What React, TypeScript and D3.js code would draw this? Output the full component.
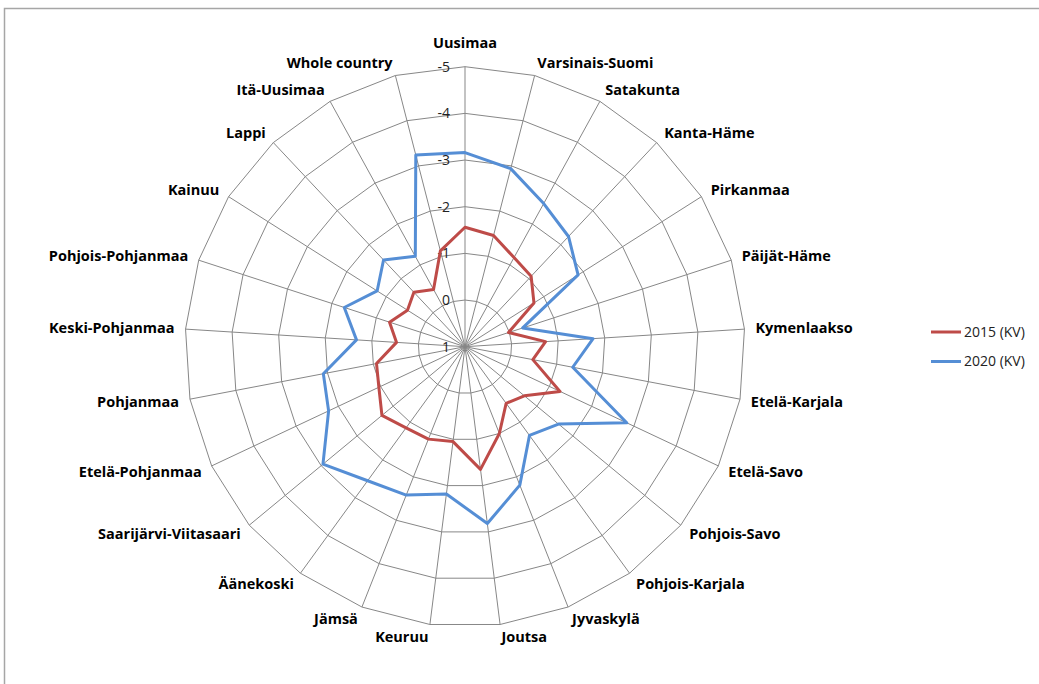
import React from "react";
import * as d3 from "d3";

const categories = [
  "Uusimaa", "Varsinais-Suomi", "Satakunta", "Kanta-Häme", "Pirkanmaa", "Päijät-Häme",
  "Kymenlaakso", "Etelä-Karjala", "Etelä-Savo", "Pohjois-Savo", "Pohjois-Karjala",
  "Jyvaskylä", "Joutsa", "Keuruu", "Jämsä", "Äänekoski", "Saarijärvi-Viitasaari",
  "Etelä-Pohjanmaa", "Pohjanmaa", "Keski-Pohjanmaa", "Pohjois-Pohjanmaa", "Kainuu",
  "Lappi", "Itä-Uusimaa", "Whole country",
];

const values2015 = [
  -1.56, -1.46, -1.18, -1.07, -0.75, 0.02, -0.73, -0.48, -1.25, -0.65, -0.5, -1.0,
  -1.65, -1.05, -1.13, -1.15, -1.31, -1.04, -0.93, -0.47, -0.7, -0.46, -0.6, -0.4, -1.12,
];

const values2020 = [
  -3.16, -2.94, -2.5, -2.24, -1.87, -0.3, -1.75, -1.35, -2.83, -1.6, -1.35, -2.19,
  -2.82, -2.18, -2.42, -2.55, -2.95, -2.23, -2.09, -1.33, -1.72, -1.23, -1.55, -1.21, -3.24,
];

const tickValues = [1, 0, -1, -2, -3, -4, -5];

const seriesNames = ["2015 (KV)", "2020 (KV)"];
const seriesColors = ["#BE4B48", "#558ED5"];

export default function App() {
  const width = 1039;
  const height = 684;
  const cx = 465;
  const cy = 346.7;
  const R = 280;
  const n = categories.length;

  const r = d3.scaleLinear().domain([1, -5]).range([0, R]);
  const angle = d3
    .scaleLinear()
    .domain([0, n])
    .range([0, 2 * Math.PI]);

  const pt = (i: number, rad: number): [number, number] => {
    const a = angle(i);
    return [cx + rad * Math.sin(a), cy - rad * Math.cos(a)];
  };

  const seriesPath = (vals: number[]) =>
    d3
      .line<number>()
      .x((v, i) => pt(i, r(v))[0])
      .y((v, i) => pt(i, r(v))[1])
      .curve(d3.curveLinearClosed)(vals) || "";

  const ringPath = (val: number) =>
    d3
      .line<number>()
      .x((_, i) => pt(i, r(val))[0])
      .y((_, i) => pt(i, r(val))[1])
      .curve(d3.curveLinearClosed)(categories.map(() => 0)) || "";

  const gridColor = "#878787";
  const labelFont = "'Open Sans', Lato, sans-serif";

  return (
    <div style={{ position: "absolute", left: 0, top: 0 }}>
      <svg width={width} height={height} style={{ display: "block", background: "#fff" }}>
        <rect x={4.5} y={8.5} width={width + 10} height={height + 10} fill="#fff" stroke="#a6a6a6" strokeWidth={1.5} />
        {tickValues
          .filter((t) => t !== 1)
          .map((t) => (
            <path key={"ring" + t} d={ringPath(t)} fill="none" stroke={gridColor} strokeWidth={1} />
          ))}
        {categories.map((c, i) => {
          const [x, y] = pt(i, R);
          return <line key={"sp" + c} x1={cx} y1={cy} x2={x} y2={y} stroke={gridColor} strokeWidth={1} />;
        })}
        {tickValues.map((t) => (
          <text
            key={"t" + t}
            x={450}
            y={cy - r(t)}
            dy="0.35em"
            textAnchor="end"
            fontFamily={labelFont}
            fontSize={14}
            fill="#222"
          >
            {t}
          </text>
        ))}
        {[values2015, values2020].map((vals, si) => (
          <path
            key={"s" + si}
            d={seriesPath(vals)}
            fill="none"
            stroke={seriesColors[si]}
            strokeWidth={3}
            strokeLinejoin="round"
          />
        ))}
        {categories.map((c, i) => {
          const a = angle(i);
          const s = Math.sin(a);
          const co = Math.cos(a);
          const [ex, ey] = pt(i, R);
          let x = ex;
          let y = ey;
          let anchor: "start" | "end" | "middle" = "middle";
          if (Math.abs(s) < 0.01) {
            y = ey - 24 * Math.sign(co);
          } else {
            anchor = s > 0 ? "start" : "end";
            x = ex + 11 * s;
            y = ey - 13 * co;
          }
          return (
            <text
              key={"l" + c}
              x={x}
              y={y}
              dy="0.35em"
              textAnchor={anchor}
              fontFamily={labelFont}
              fontWeight="bold"
              fontSize={14.5}
              fill="#000"
            >
              {c}
            </text>
          );
        })}
        {seriesNames.map((name, i) => (
          <g key={"lg" + name} transform={`translate(931, ${332 + i * 29.5})`}>
            <line x1={0} x2={30} y1={0} y2={0} stroke={seriesColors[i]} strokeWidth={3} />
            <text x={33} y={0} dy="0.35em" fontFamily={labelFont} fontSize={14} fill="#222">
              {name}
            </text>
          </g>
        ))}
      </svg>
    </div>
  );
}
